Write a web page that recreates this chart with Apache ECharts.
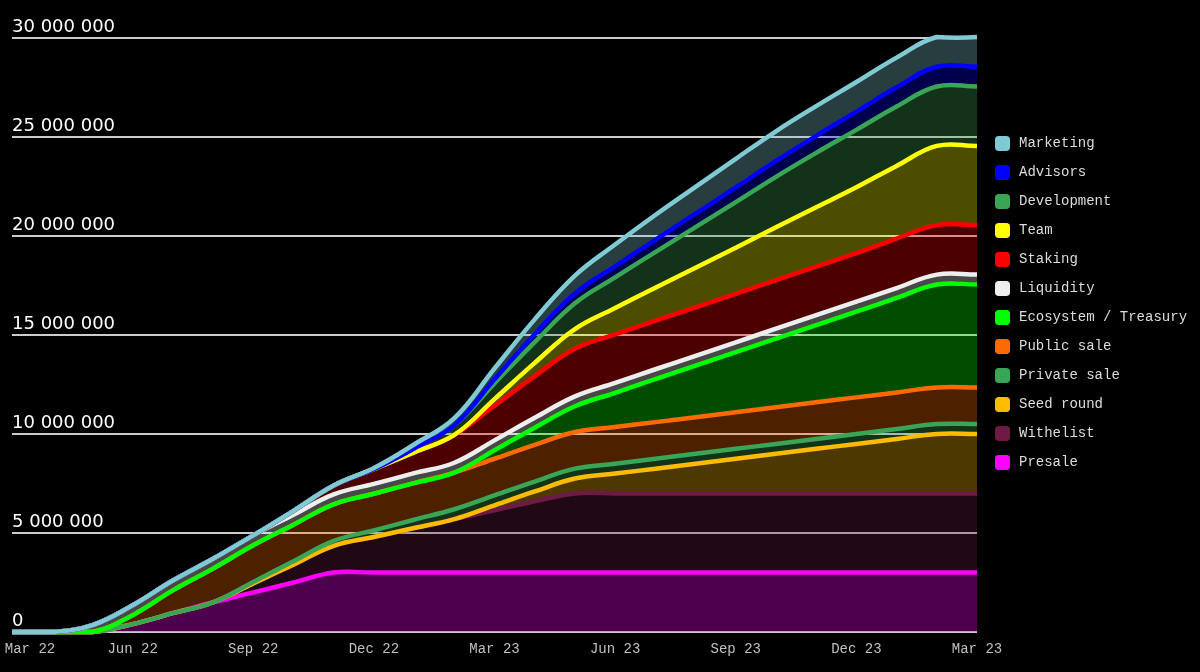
<!DOCTYPE html>
<html>
<head>
<meta charset="utf-8">
<script src="https://cdn.jsdelivr.net/npm/echarts@6/dist/echarts.min.js"></script>
<style>
html,body{margin:0;padding:0;background:#000;}
#c{width:1200px;height:672px;}
</style>
</head>
<body>
<div id="c"></div>
<script>
// Months (category axis), Mar 22 .. Mar 24
const months = ['Mar 22','Apr 22','May 22','Jun 22','Jul 22','Aug 22','Sep 22','Oct 22','Nov 22','Dec 22',
  'Jan 23','Feb 23','Mar 23','Apr 23','May 23','Jun 23','Jul 23','Aug 23','Sep 23','Oct 23','Nov 23','Dec 23',
  'Jan 24','Feb 24','Mar 24'];
// Tick labels as printed on the reference x axis (one per month index)
const xTickLabels = ['Mar 22','','','Jun 22','','','Sep 22','','','Dec 22','','','Mar 23','','','Jun 23','','',
  'Sep 23','','','Dec 23','','','Mar 23'];
const yTickLabels = ['0','5 000 000','10 000 000','15 000 000','20 000 000','25 000 000','30 000 000'];

// Tokens unlocked per category (millions), stacked bottom -> top
const presale     = [0,0,0,0.4,0.95,1.5,2.0,2.5,3.0,3,3,3,3,3,3,3,3,3,3,3,3,3,3,3,3];
const withelist   = [0,0,0,0,0,0,0.45,0.9,1.35,1.8,2.25,2.7,3.15,3.6,4,4,4,4,4,4,4,4,4,4,4];
const seedRound   = [0,0,0,0,0,0,0,0,0,0,0,0,0.25,0.5,0.75,1.0,1.25,1.5,1.75,2.0,2.25,2.5,2.75,3.0,3.0];
const privateSale = [0,0,0,0,0,0,0.08,0.17,0.25,0.33,0.42,0.5,0.5,0.5,0.5,0.5,0.5,0.5,0.5,0.5,0.5,0.5,0.5,0.5,0.5];
const publicSale  = [0,0,0,0.45,1.15,1.7,1.85,1.85,1.85,1.85,1.85,1.85,1.85,1.85,1.85,1.85,1.85,1.85,1.85,1.85,1.85,1.85,1.85,1.85,1.85];
const ecosystem   = [0,0,0,0,0,0,0,0,0,0,0,0,0.43,0.87,1.3,1.73,2.17,2.6,3.03,3.47,3.9,4.33,4.77,5.2,5.2];
const liquidity   = [0,0,0.35,0.5,0.5,0.5,0.5,0.5,0.5,0.5,0.5,0.5,0.5,0.5,0.5,0.5,0.5,0.5,0.5,0.5,0.5,0.5,0.5,0.5,0.5];
const staking     = [0,0,0,0,0,0,0,0.2,0.45,0.75,1.05,1.4,1.75,2.1,2.4,2.45,2.45,2.45,2.45,2.45,2.45,2.45,2.5,2.5,2.5];
const team        = [0,0,0,0,0,0,0,0,0,0,0,0,0.33,0.67,1.0,1.33,1.67,2.0,2.33,2.67,3.0,3.33,3.67,4.0,4.0];
const development = [0,0,0,0,0,0,0,0,0,0,0.2,0.5,0.8,1.05,1.3,1.55,1.8,2.05,2.3,2.55,2.75,2.9,3.0,3.0,3.0];
const advisors    = [0,0,0,0,0,0,0,0,0,0,0,0,0.2,0.4,0.5,0.56,0.62,0.68,0.74,0.8,0.86,0.92,0.97,1.0,1.0];
const marketing   = [0,0,0,0,0,0,0,0,0,0.05,0.2,0.35,0.55,0.75,0.9,1.1,1.25,1.35,1.45,1.5,1.5,1.5,1.5,1.5,1.5];

const seriesNames  = ['Presale','Withelist','Seed round','Private sale','Public sale','Ecosystem / Treasury',
  'Liquidity','Staking','Team','Development','Advisors','Marketing'];
const seriesData   = [presale,withelist,seedRound,privateSale,publicSale,ecosystem,liquidity,staking,team,development,advisors,marketing];
const seriesColors = ['#ff00ff','#6e1a46','#ffbb00','#3aa655','#ff6a00','#00ff00','#eeeeee','#ff0000','#ffff00','#3aa655','#0000ff','#80cad4'];

// stacking (cumulative bottoms and tops)
const bases = [], tops = [];
seriesData.forEach((arr,k)=>{
  const b = arr.map((v,i)=> k===0 ? 0 : tops[k-1][i]);
  bases.push(b);
  tops.push(arr.map((v,i)=> b[i] + v));
});

function rgba(hex,a){
  const n=parseInt(hex.slice(1),16);
  return 'rgba('+((n>>16)&255)+','+((n>>8)&255)+','+(n&255)+','+a+')';
}

// cardinal-style spline control points (tension t), capped to the plot area
function splineSegs(pts, t, rect){
  const n=pts.length, cps=[];
  const cx=v=>Math.min(Math.max(v,rect.x),rect.x+rect.width);
  const cy=v=>Math.min(Math.max(v,rect.y),rect.y+rect.height);
  for(let i=0;i<n;i++){
    const p=pts[i-1]||pts[i], c=pts[i], q=pts[i+1]||pts[i];
    const d01=Math.hypot(c[0]-p[0],c[1]-p[1]), d12=Math.hypot(q[0]-c[0],q[1]-c[1]);
    const s=d01+d12;
    const fa = s? t*d01/s : 0, fb = s? t*d12/s : 0;
    cps.push({
      prev:[cx(c[0]-fa*(q[0]-p[0])), cy(c[1]-fa*(q[1]-p[1]))],
      next:[cx(c[0]+fb*(q[0]-p[0])), cy(c[1]+fb*(q[1]-p[1]))]
    });
  }
  return cps;
}
const f=v=>v.toFixed(2);
function curvePath(pts, cps, move){
  let d = (move?'M':'L')+f(pts[0][0])+' '+f(pts[0][1]);
  for(let i=0;i<pts.length-1;i++){
    const a=cps[i].next, b=cps[i+1].prev, e=pts[i+1];
    d+=' C'+f(a[0])+' '+f(a[1])+' '+f(b[0])+' '+f(b[1])+' '+f(e[0])+' '+f(e[1]);
  }
  return d;
}
function curvePathReversed(pts, cps){
  const n=pts.length;
  let d = ' L'+f(pts[n-1][0])+' '+f(pts[n-1][1]);
  for(let i=n-1;i>0;i--){
    const a=cps[i].prev, b=cps[i-1].next, e=pts[i-1];
    d+=' C'+f(a[0])+' '+f(a[1])+' '+f(b[0])+' '+f(b[1])+' '+f(e[0])+' '+f(e[1]);
  }
  return d;
}

const TENSION = 0.4;
const chart = echarts.init(document.getElementById('c'), null, {renderer:'canvas'});
const series = seriesNames.map((name,k)=>({
  name, type:'custom', coordinateSystem:'cartesian2d',
  color: seriesColors[k],
  itemStyle:{color:seriesColors[k]},
  encode:{x:0,y:1},
  data: seriesData[k].map((v,i)=>[i,tops[k][i]]),
  silent:true,
  renderItem:(params, api)=>{
    if(params.dataIndex!==0) return null;
    const rect = params.coordSys;
    const topPts = tops[k].map((v,i)=>api.coord([i,v]));
    const basePts = bases[k].map((v,i)=>api.coord([i,v]));
    const tc = splineSegs(topPts, TENSION, rect);
    const bc = splineSegs(basePts, TENSION, rect);
    const lineD = curvePath(topPts, tc, true);
    const areaD = lineD + curvePathReversed(basePts, bc) + ' Z';
    return {type:'group', children:[
      {type:'path', shape:{pathData:areaD}, style:{fill:rgba(seriesColors[k],0.3), stroke:null}, z2:k},
      {type:'path', shape:{pathData:lineD}, style:{fill:null, stroke:seriesColors[k], lineWidth:4.5, lineJoin:'round', lineCap:'butt'}, z2:100+k}
    ]};
  }
}));

chart.setOption({
  backgroundColor:'#000',
  animation:false,
  grid:{left:12,right:223,top:38,bottom:40,containLabel:false},
  legend:{
    orient:'vertical', left:990, top:131,
    data: seriesNames.slice().reverse(),
    icon:'roundRect', itemWidth:15, itemHeight:15, itemGap:14,
    selectedMode:false,
    textStyle:{color:'#dcdcdc',fontFamily:'Liberation Mono',fontSize:14,padding:[0,0,0,4]}
  },
  xAxis:{
    type:'category', boundaryGap:false, data:months,
    axisLine:{show:false}, axisTick:{show:false}, splitLine:{show:false},
    axisLabel:{
      interval:2, margin:10, color:'#c0c0c0', fontFamily:'Liberation Mono', fontSize:14,
      formatter:(v,i)=> i===0 ? '{first|'+xTickLabels[i]+'}' : xTickLabels[i],
      rich:{first:{padding:[0,0,0,36],color:'#c0c0c0',fontFamily:'Liberation Mono',fontSize:14}}
    }
  },
  yAxis:{
    type:'value', min:0, max:30, interval:5,
    axisLine:{show:false}, axisTick:{show:false},
    splitLine:{show:true,lineStyle:{color:'#cccccc',width:2}},
    axisLabel:{
      inside:true, margin:0, color:'#ffffff', fontFamily:'DejaVu Sans', fontSize:18,
      verticalAlign:'bottom', align:'left', padding:[0,0,2,0],
      formatter:(v)=> yTickLabels[Math.round(v/5)]
    }
  },
  series: series
});
</script>
</body>
</html>
